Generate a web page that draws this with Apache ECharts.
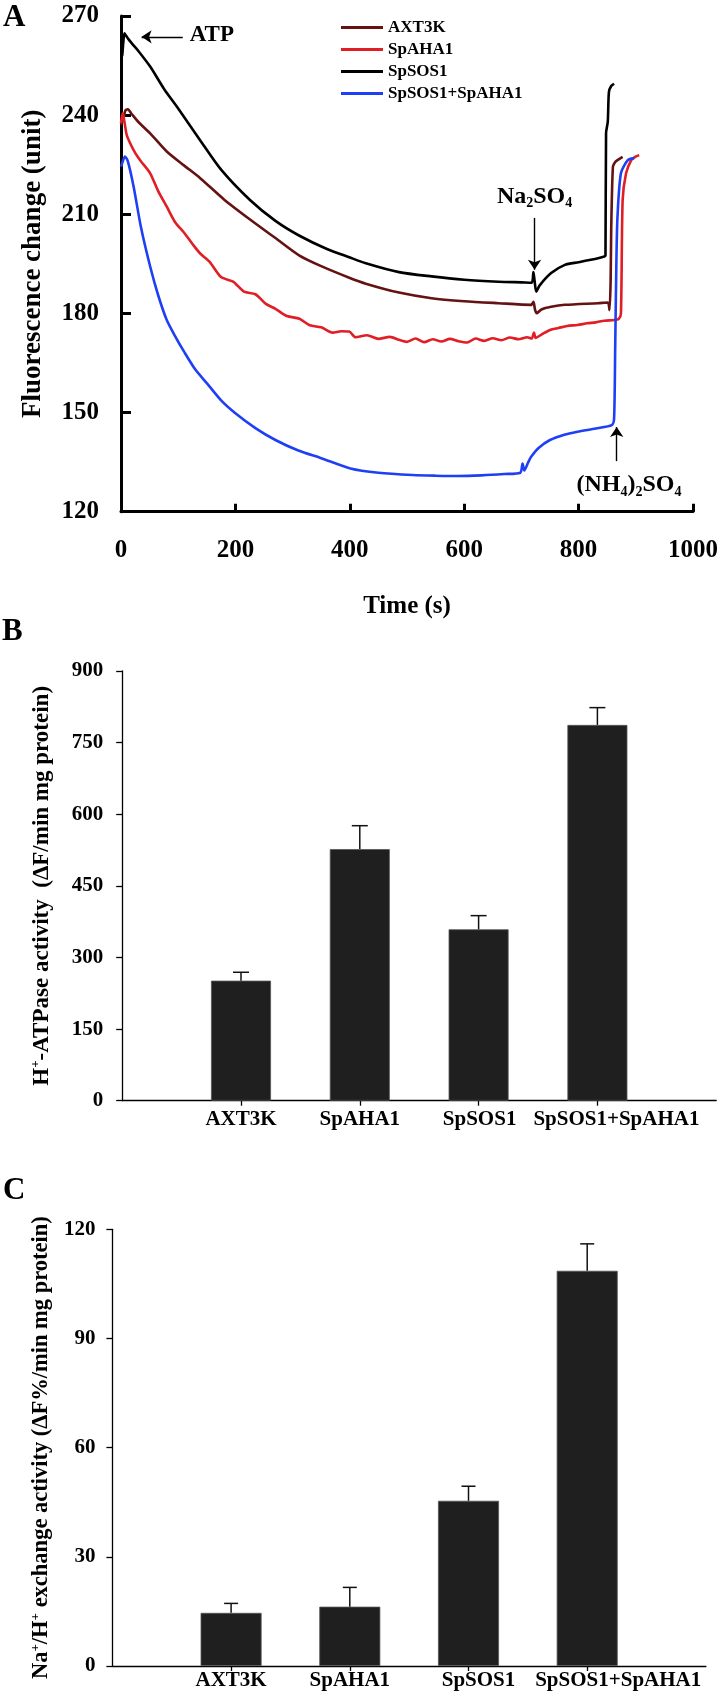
<!DOCTYPE html>
<html><head><meta charset="utf-8">
<script src="https://cdn.jsdelivr.net/npm/echarts@6/dist/echarts.min.js"></script>
<style>html,body{margin:0;padding:0;background:#fff}#c{width:721px;height:1699px}</style>
</head><body><div id="c"></div>
<script>
const FONT = "'Liberation Serif','Times New Roman',serif";

// ---------- Panel A: fluorescence traces (time s, fluorescence unit) ----------
const axt3kT = [0,4,8,12,18,30,51,80,110,138,180,225,270,312,350,399,428,486,543,600,660,717,721,724,727,735,752,776,834,851,854,856,857,860,864,868,877];
const axt3kV = [237,239,241.5,241.8,240.5,238,234.5,229,224.8,221,214.5,208.5,202.8,197.5,194.3,190.8,189,186.3,184.6,183.7,183.1,182.6,183.5,181,180.1,181.2,182,182.6,183.1,183.3,181,190,205.3,224.4,225.8,226.4,227.4];

const spaha1T = [0,3,6,10,16,25,35,51,65,80,95,110,125,138,155,175,196,215,235,254,270,290,312,330,350,370,385,399,410,430,450,470,486,500,515,530,545,560,575,590,605,620,635,650,665,680,695,710,718,722,725,735,750,765,780,798,815,830,845,862,870,874,877,883,892,899,906];
const spaha1V = [237.6,240.6,238,234,231.5,228.5,226,222.4,217,212.3,207.5,204.5,201,198.2,195.6,191,189.6,186.6,185.8,182.8,181.4,179.2,178.4,176.4,175.8,174.2,174.6,174.5,172.8,173.4,172.3,172.9,172,171.4,172.4,171.3,172.2,171.5,172.3,171.6,171.2,172.4,171.7,172.5,171.9,172.7,172.2,172.8,172.4,174.2,172.6,173.6,175,175.6,176.2,176.5,177,177.3,177.8,178,178.3,180,214.3,222.4,226.4,227.4,227.9];

const spsos1T = [0,2,4,6,9,13,20,30,51,75,100,138,175,225,270,312,360,399,428,486,543,600,660,700,718,721,723,726,732,752,776,800,834,845,847,848,851,853,857,862];
const spsos1V = [257.5,258,262,264.8,264,263,261.5,259.5,254.7,248,242,232.5,223.5,214.4,208,203.5,199.5,197,195.2,192.5,191.2,190.2,189.6,189.4,189.3,192.5,190,186.6,188.5,192.2,194.7,195.5,196.7,197.2,197.5,234.6,238,247,248.8,249.5];

const comboT = [0,3,7,12,22,35,51,65,80,95,110,130,150,175,200,235,270,310,350,401,450,510,550,590,630,670,698,702,705,712,717,730,750,775,798,830,858,862,864,866,868,874,886,897];
const comboV = [224.4,226,227.5,226,218.4,206,194.2,185.5,178,173,168.5,163,158.9,153.7,149.8,145.3,141.7,138.5,136.2,133.1,131.8,131.1,130.9,130.8,131,131.4,131.8,134.6,132.5,135,136.6,139.3,141.7,143.3,144.2,145.2,146.2,148,170,195,209.3,222.4,226.4,227];

const traceNames = ['AXT3K','SpAHA1','SpSOS1','SpSOS1+SpAHA1'];
const traceColors = ['#641212','#e01e26','#000000','#1f3ff5'];

// ---------- Panel B & C: bar values ----------
const barCategories = ['', 'AXT3K', 'SpAHA1', 'SpSOS1', 'SpSOS1+SpAHA1', ''];
const hAtpaseMean = [251.4, 527, 359, 787];
const hAtpaseErr  = [17.6, 49, 28.6, 36.3];
const exchangeMean = [14.6, 16.3, 45.4, 108.6];
const exchangeErr  = [2.6, 5.3, 4.0, 7.4];

const zip = (t, v) => t.map((x, i) => [x, v[i]]);
const padBars = arr => ['-'].concat(arr).concat(['-']);
const errData = (m, e) => m.map((v, i) => [i + 1, v, e[i]]);

const richA = {
  m: {fontFamily: FONT, fontWeight: 'bold', fontSize: 24, color: '#000', lineHeight: 28},
  a: {fontFamily: FONT, fontWeight: 'bold', fontSize: 23, color: '#000', lineHeight: 28},
  s: {fontFamily: FONT, fontWeight: 'bold', fontSize: 14, color: '#000', lineHeight: 14, verticalAlign: 'bottom'}
};
const supRich = (size) => ({
  m: {fontFamily: FONT, fontWeight: 'bold', fontSize: size, color: '#000', lineHeight: size + 3},
  s: {fontFamily: FONT, fontWeight: 'bold', fontSize: Math.round(size * 0.58), color: '#000', lineHeight: Math.round(size * 0.58), verticalAlign: 'top'}
});

function errorBarRender(capHalf) {
  return function (params, api) {
    const x = api.value(0), y = api.value(1), e = api.value(2);
    const p0 = api.coord([x, y]);
    const p1 = api.coord([x, y + e]);
    const st = {stroke: '#111', lineWidth: 1.5};
    return {type: 'group', children: [
      {type: 'line', shape: {x1: p0[0], y1: p0[1], x2: p1[0], y2: p1[1]}, style: st},
      {type: 'line', shape: {x1: p1[0] - capHalf, y1: p1[1], x2: p1[0] + capHalf, y2: p1[1]}, style: st}
    ]};
  };
}

const tickLabel = (size) => ({fontFamily: FONT, fontWeight: 'bold', fontSize: size, color: '#000'});
// category label nudges (px) to reproduce the reference label placement
function catLabel(margin, shifts) {
  const rich = {};
  shifts.forEach((s, i) => { rich['p' + i] = Object.assign({padding: [0, 0, 0, 2 * s]}, tickLabel(21)); });
  return Object.assign({margin: margin, interval: 0, rich: rich,
    formatter: (v, i) => v ? '{p' + i + '|' + v + '}' : ''}, tickLabel(21));
}

const chart = echarts.init(document.getElementById('c'), null, {renderer: 'canvas'});
const traces = [zip(axt3kT, axt3kV), zip(spaha1T, spaha1V), zip(spsos1T, spsos1V), zip(comboT, comboV)];

const option = {
  animation: false,
  backgroundColor: '#fff',
  graphic: [
    {type: 'text', left: 3, top: 2, style: {text: 'A', font: 'bold 31px ' + FONT, fill: '#000'}},
    {type: 'text', left: 2, top: 616, style: {text: 'B', font: 'bold 31px ' + FONT, fill: '#000'}},
    {type: 'text', left: 3, top: 1175, style: {text: 'C', font: 'bold 31px ' + FONT, fill: '#000'}}
  ],
  legend: {
    orient: 'vertical', left: 336, top: 14, itemWidth: 42, itemHeight: 3, itemGap: 5, icon: 'rect',
    data: traceNames,
    textStyle: {fontFamily: FONT, fontWeight: 'bold', fontSize: 17, color: '#000'}
  },
  grid: [
    {left: 121, right: 25.3, top: 16, bottom: 1187.3},
    {left: 122.2, right: 4.8, top: 671, bottom: 598.3},
    {left: 112.4, right: 15.1, top: 1229.3, bottom: 33}
  ],
  xAxis: [
    {gridIndex: 0, type: 'value', min: 0, max: 1000, interval: 200,
     name: 'Time (s)', nameLocation: 'middle', nameGap: 82,
     nameTextStyle: {fontFamily: FONT, fontWeight: 'bold', fontSize: 25, color: '#000'},
     axisLine: {lineStyle: {color: '#000', width: 3}},
     axisTick: {inside: true, length: 8, lineStyle: {color: '#000', width: 3}},
     axisLabel: Object.assign({margin: 26, formatter: v => String(v)}, tickLabel(25)),
     splitLine: {show: false}},
    {gridIndex: 1, type: 'category', data: barCategories, boundaryGap: false,
     axisLine: {lineStyle: {color: '#000', width: 1.3}},
     axisTick: {length: 5, interval: (i) => i > 0 && i < 5, lineStyle: {color: '#000', width: 1.3}},
     axisLabel: catLabel(8, [0, 0, 0, 1, 19, 0])},
    {gridIndex: 2, type: 'category', data: barCategories, boundaryGap: false,
     axisLine: {lineStyle: {color: '#000', width: 1.3}},
     axisTick: {length: 5, interval: (i) => i > 0 && i < 5, lineStyle: {color: '#000', width: 1.3}},
     axisLabel: catLabel(4, [0, 0, 0, 10, 31, 0])}
  ],
  yAxis: [
    {gridIndex: 0, type: 'value', min: 120, max: 270, interval: 30,
     name: 'Fluorescence change (unit)', nameLocation: 'middle', nameGap: 74,
     nameTextStyle: {fontFamily: FONT, fontWeight: 'bold', fontSize: 27, color: '#000'},
     axisLine: {show: true, lineStyle: {color: '#000', width: 3}},
     axisTick: {show: true, inside: true, length: 10, lineStyle: {color: '#000', width: 3}},
     axisLabel: Object.assign({margin: 22}, tickLabel(25)),
     splitLine: {show: false}},
    {gridIndex: 1, type: 'value', min: 0, max: 900, interval: 150,
     name: '{m|H}{s|+}{m|-ATPase activity  (ΔF/min mg protein)}', nameLocation: 'middle', nameGap: 67,
     nameTextStyle: {rich: supRich(23)},
     axisLine: {show: true, lineStyle: {color: '#000', width: 1.3}},
     axisTick: {show: true, length: 6, lineStyle: {color: '#000', width: 1.3}},
     axisLabel: Object.assign({margin: 19}, tickLabel(21)),
     splitLine: {show: false}},
    {gridIndex: 2, type: 'value', min: 0, max: 120, interval: 30,
     name: '{m|Na}{s|+}{m|/H}{s|+}{m| exchange activity (ΔF%/min mg protein)}', nameLocation: 'middle', nameGap: 55,
     nameTextStyle: {rich: supRich(22.5)},
     axisLine: {show: true, lineStyle: {color: '#000', width: 1.3}},
     axisTick: {show: true, length: 6, lineStyle: {color: '#000', width: 1.3}},
     axisLabel: Object.assign({margin: 17}, tickLabel(21)),
     splitLine: {show: false}}
  ],
  series: traceNames.map((n, i) => {
    const s = {
      name: n, type: 'line', xAxisIndex: 0, yAxisIndex: 0, data: traces[i],
      showSymbol: false, symbol: 'none', color: traceColors[i],
      smooth: 0.25,
      lineStyle: {width: 2.6, color: traceColors[i]}, z: 3
    };
    if (n === 'SpSOS1') {
      s.markLine = {
        silent: true, symbol: ['none', 'arrow'], symbolSize: 10,
        lineStyle: {color: '#000', width: 1.4, type: 'solid'}, label: {show: false},
        data: [
          [{coord: [108, 263.7]}, {coord: [36, 263.7]}],
          [{coord: [723, 208.9]}, {coord: [723, 193.2]}],
          [{coord: [866.6, 135.3]}, {coord: [866.6, 145.6]}]
        ]
      };
      s.markPoint = {
        silent: true, symbol: 'circle', symbolSize: 0,
        label: {show: true, position: 'inside', rich: richA},
        data: [
          {coord: [158.8, 264.3], label: {formatter: '{a|ATP}'}},
          {coord: [723, 215.3], label: {formatter: '{m|Na}{s|2}{m|SO}{s|4}'}},
          {coord: [888, 128.1], label: {formatter: '{m|(NH}{s|4}{m|)}{s|2}{m|SO}{s|4}'}}
        ]
      };
    }
    return s;
  }).concat([
    {type: 'bar', xAxisIndex: 1, yAxisIndex: 1, data: padBars(hAtpaseMean), barWidth: 60,
     itemStyle: {color: '#1f1f1f', borderColor: '#555', borderWidth: 0.8}},
    {type: 'custom', xAxisIndex: 1, yAxisIndex: 1, data: errData(hAtpaseMean, hAtpaseErr),
     renderItem: errorBarRender(8), z: 5},
    {type: 'bar', xAxisIndex: 2, yAxisIndex: 2, data: padBars(exchangeMean), barWidth: 61,
     itemStyle: {color: '#1f1f1f', borderColor: '#555', borderWidth: 0.8}},
    {type: 'custom', xAxisIndex: 2, yAxisIndex: 2, data: errData(exchangeMean, exchangeErr),
     renderItem: errorBarRender(7), z: 5}
  ])
};
chart.setOption(option);
</script>
</body></html>
